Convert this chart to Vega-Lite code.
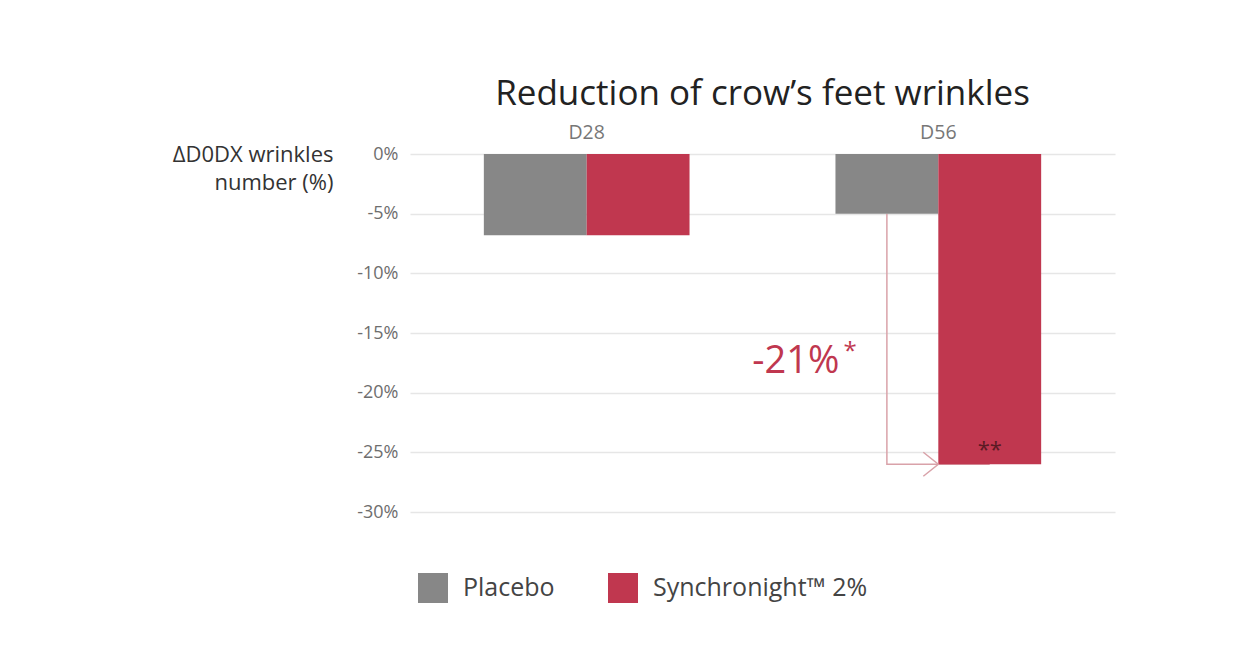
{
  "$schema": "https://vega.github.io/schema/vega-lite/v6.json",
  "autosize": {"type": "none"},
  "padding": {"left": 410, "top": 154, "right": 134, "bottom": 151},
  "width": 705,
  "height": 358,
  "background": "white",
  "title": {
    "text": "Reduction of crow’s feet wrinkles",
    "fontSize": 35,
    "font": "Open Sans",
    "fontWeight": "normal",
    "color": "#222222",
    "anchor": "middle",
    "offset": 10
  },
  "datasets": {
    "bars": [
      {"group": "D28", "treatment": "Placebo", "value": -6.8},
      {"group": "D28", "treatment": "Synchronight™ 2%", "value": -6.8},
      {"group": "D56", "treatment": "Placebo", "value": -5},
      {"group": "D56", "treatment": "Synchronight™ 2%", "value": -26}
    ],
    "arrow": [
      {"group": "D56", "treatment": "Placebo", "value": -5, "order": 1},
      {"group": "D56", "treatment": "Placebo", "value": -26, "order": 2},
      {"group": "D56", "treatment": "Synchronight™ 2%", "value": -26, "order": 3}
    ],
    "head": [
      {"group": "D56", "value": -26}
    ],
    "big": [
      {"group": "D56", "value": -17.4, "label": "-21%"}
    ],
    "star": [
      {"group": "D56", "value": -16.6, "label": "*"}
    ],
    "inbar": [
      {"group": "D56", "treatment": "Synchronight™ 2%", "value": -24.8, "label": "**"}
    ]
  },
  "encoding": {
    "x": {
      "field": "group",
      "type": "nominal",
      "scale": {"paddingInner": 0.415, "paddingOuter": 0.21},
      "axis": {
        "orient": "top",
        "title": null,
        "domain": false,
        "ticks": false,
        "labelAngle": 0,
        "labelFont": "Open Sans",
        "labelFontSize": 19.5,
        "labelColor": "#777777",
        "labelPadding": 12
      }
    },
    "y": {
      "field": "value",
      "type": "quantitative",
      "scale": {"domain": [-30, 0], "nice": false},
      "axis": {
        "values": [0, -5, -10, -15, -20, -25, -30],
        "labelExpr": "datum.value + '%'",
        "domain": false,
        "ticks": false,
        "grid": true,
        "gridColor": "#e6e6e6",
        "gridWidth": 1.5,
        "labelFont": "Open Sans",
        "labelFontSize": 18,
        "labelColor": "#6e6e6e",
        "labelPadding": 12,
        "title": ["ΔD0DX wrinkles", "number (%)"],
        "titleAngle": 0,
        "titleAlign": "right",
        "titleBaseline": "top",
        "titleX": -77,
        "titleY": -10,
        "titleFont": "Open Sans",
        "titleFontSize": 22,
        "titleFontWeight": "normal",
        "titleColor": "#333333",
        "titleLineHeight": 28,
        "titleLimit": 400
      }
    }
  },
  "layer": [
    {
      "data": {"name": "arrow"},
      "mark": {"type": "line", "color": "#d9a2a9", "strokeWidth": 1.5},
      "encoding": {
        "xOffset": {"field": "treatment", "type": "nominal", "scale": {"domain": ["Placebo", "Synchronight™ 2%"], "paddingInner": 0, "paddingOuter": 0}},
        "order": {"field": "order", "type": "quantitative"}
      }
    },
    {
      "data": {"name": "bars"},
      "mark": {"type": "bar"},
      "encoding": {
        "xOffset": {"field": "treatment", "type": "nominal", "scale": {"domain": ["Placebo", "Synchronight™ 2%"], "paddingInner": 0, "paddingOuter": 0}},
        "y2": {"datum": 0},
        "color": {
          "field": "treatment",
          "type": "nominal",
          "scale": {"domain": ["Placebo", "Synchronight™ 2%"], "range": ["#878787", "#c0374f"]},
          "legend": {
            "orient": "none",
            "legendX": 8,
            "legendY": 419,
            "direction": "horizontal",
            "title": null,
            "symbolType": "square",
            "symbolSize": 900,
            "symbolStrokeWidth": 0,
            "labelFont": "Open Sans",
            "labelFontSize": 25,
            "labelColor": "#444444",
            "labelOffset": 15,
            "labelLimit": 400,
            "columnPadding": 53,
            "padding": 0
          }
        }
      }
    },
    {
      "data": {"name": "head"},
      "mark": {"type": "point", "shape": "M-1.25,-1L0,0L-1.25,1", "filled": false, "stroke": "#d9a2a9", "strokeWidth": 1.5, "size": 576, "opacity": 1},
      "encoding": {}
    },
    {
      "data": {"name": "big"},
      "mark": {"type": "text", "align": "right", "baseline": "middle", "font": "Open Sans", "fontSize": 38, "color": "#c0374f", "dx": 4},
      "encoding": {
        "x": {"field": "group", "type": "nominal", "bandPosition": 0},
        "text": {"field": "label"}
      }
    },
    {
      "data": {"name": "star"},
      "mark": {"type": "text", "align": "left", "baseline": "middle", "font": "Open Sans", "fontSize": 24, "color": "#c0374f", "dx": 8},
      "encoding": {
        "x": {"field": "group", "type": "nominal", "bandPosition": 0},
        "text": {"field": "label"}
      }
    },
    {
      "data": {"name": "inbar"},
      "mark": {"type": "text", "align": "center", "baseline": "middle", "font": "Open Sans", "fontSize": 22, "color": "#5a1a24"},
      "encoding": {
        "xOffset": {"field": "treatment", "type": "nominal", "scale": {"domain": ["Placebo", "Synchronight™ 2%"], "paddingInner": 0, "paddingOuter": 0}},
        "text": {"field": "label"}
      }
    }
  ],
  "config": {
    "view": {"stroke": null},
    "font": "Open Sans"
  }
}
